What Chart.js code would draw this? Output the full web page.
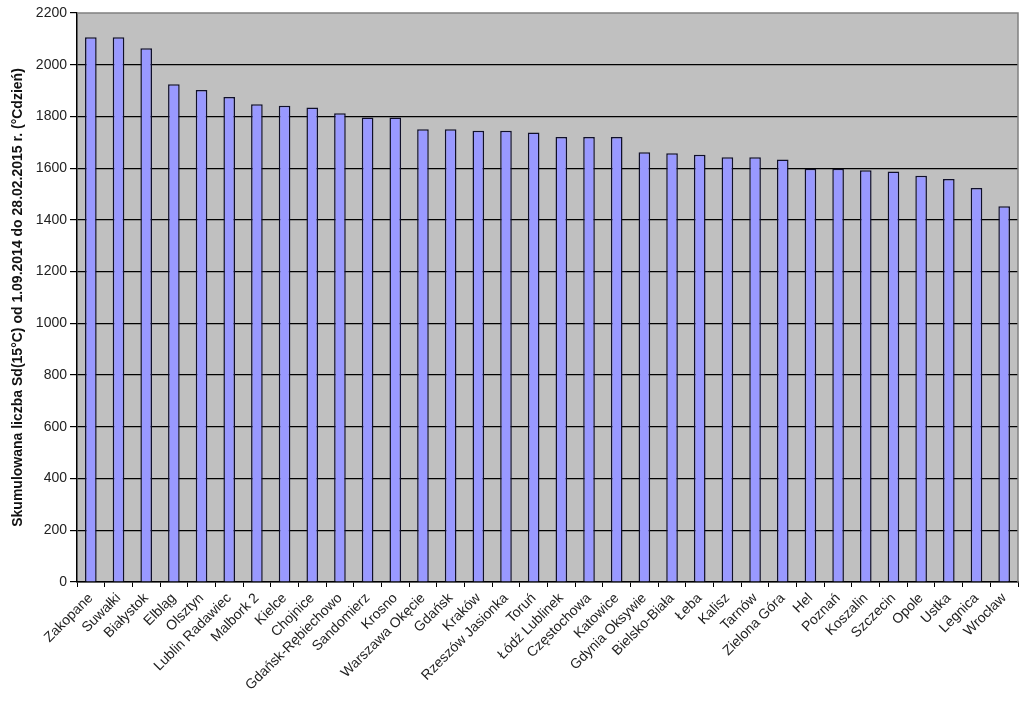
<!DOCTYPE html>
<html>
<head>
<meta charset="utf-8">
<script src="https://cdn.jsdelivr.net/npm/chart.js@4.4.1/dist/chart.umd.min.js"></script>
<style>
  html, body { margin: 0; padding: 0; background: #fff; }
</style>
</head>
<body>
<canvas id="sdChart" width="1024" height="704"></canvas>
<script>
// stations, sorted by accumulated degree-days
const stations = [
    'Zakopane', 'Suwałki', 'Białystok', 'Elbląg', 'Olsztyn', 'Lublin Radawiec',
    'Malbork 2', 'Kielce', 'Chojnice', 'Gdańsk-Rębiechowo', 'Sandomierz', 'Krosno',
    'Warszawa Okęcie', 'Gdańsk', 'Kraków', 'Rzeszów Jasionka', 'Toruń', 'Łódź Lublinek',
    'Częstochowa', 'Katowice', 'Gdynia Oksywie', 'Bielsko-Biała', 'Łeba', 'Kalisz',
    'Tarnów', 'Zielona Góra', 'Hel', 'Poznań', 'Koszalin', 'Szczecin', 'Opole',
    'Ustka', 'Legnica', 'Wrocław'
];
const degreeDays = [
    2106, 2106, 2064, 1925, 1902, 1875,
    1847, 1841, 1835, 1812, 1796, 1796,
    1751, 1751, 1745, 1745, 1738, 1721,
    1721, 1721, 1662, 1658, 1652, 1642,
    1642, 1634, 1598, 1598, 1592, 1587, 1571,
    1558, 1523, 1453
];
const yMin = 0;
const yMax = 2200;
const yStep = 200;
const yTitle = 'Skumulowana liczba Sd(15°C) od 1.09.2014 do 28.02.2015 r. (°Cdzień)';

// grey plot area + thin grey frame on top/right, like the old Excel charts
const plotArea = {
    id: 'plotArea',
    beforeDraw(chart) {
        const { ctx, chartArea: a } = chart;
        ctx.save();
        ctx.fillStyle = '#c0c0c0';
        ctx.fillRect(a.left, a.top, a.right - a.left, a.bottom - a.top);
        ctx.restore();
    },
    afterDraw(chart) {
        const { ctx, chartArea: a } = chart;
        ctx.save();
        ctx.strokeStyle = '#808080';
        ctx.lineWidth = 1.5;
        ctx.beginPath();
        ctx.moveTo(a.left, a.top);
        ctx.lineTo(a.right, a.top);
        ctx.lineTo(a.right, a.bottom);
        ctx.stroke();
        ctx.restore();
    }
};

const ctx = document.getElementById('sdChart').getContext('2d');
const sdChart = new Chart(ctx, {
    type: 'bar',
    data: {
        labels: stations,
        datasets: [{
            data: degreeDays,
            backgroundColor: '#9999ff',
            borderColor: '#10102a',
            borderWidth: 1.5,
            barPercentage: 0.42,
            categoryPercentage: 1.0
        }]
    },
    options: {
        responsive: false,
        animation: false,
        layout: { padding: { top: 13, right: 6, left: 0, bottom: 0 } },
        plugins: {
            legend: { display: false },
            tooltip: { enabled: false }
        },
        scales: {
            x: {
                grid: {
                    offset: true,
                    drawOnChartArea: false,
                    drawTicks: true,
                    tickLength: 5,
                    color: '#000'
                },
                border: { color: '#000', width: 1.5 },
                ticks: {
                    autoSkip: false,
                    maxRotation: 45,
                    minRotation: 45,
                    padding: 3,
                    color: '#222',
                    font: { family: 'Liberation Sans, Arial', size: 14 }
                },
                afterFit(scale) { scale.height = 122; }
            },
            y: {
                min: yMin,
                max: yMax,
                grid: {
                    color: (c) => (c.tick && c.tick.value === yMax) ? 'rgba(0,0,0,0)' : '#000',
                    tickColor: '#000',
                    tickLength: 7,
                    lineWidth: 1.2
                },
                border: { color: '#000', width: 1.5 },
                ticks: {
                    stepSize: yStep,
                    padding: 3,
                    color: '#222',
                    font: { family: 'Liberation Sans, Arial', size: 14 },
                    callback: (v) => String(v)
                },
                title: {
                    display: true,
                    text: yTitle,
                    color: '#111',
                    padding: { top: 10, bottom: 0 },
                    font: { family: 'Liberation Sans, Arial', size: 14, weight: 'bold' }
                },
                afterFit(scale) { scale.width = 77; }
            }
        }
    },
    plugins: [plotArea]
});
</script>
</body>
</html>
